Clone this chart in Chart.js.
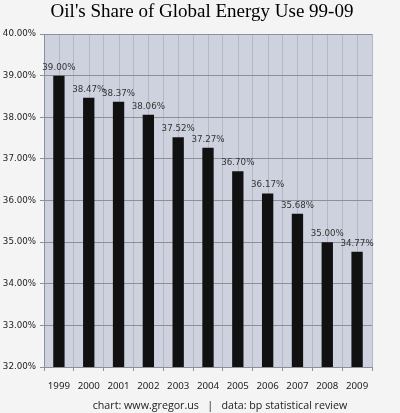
<!DOCTYPE html>
<html>
<head>
<meta charset="utf-8">
<script src="https://cdn.jsdelivr.net/npm/chart.js@4.4.0/dist/chart.umd.min.js"></script>
<style>
  html, body { margin: 0; padding: 0; background: #f4f4f4; }
  #wrap { width: 400px; height: 413px; }
</style>
</head>
<body>
<div id="wrap"><canvas id="oilChart" width="400" height="413"></canvas></div>
<script>
// data
var years = ['1999', '2000', '2001', '2002', '2003', '2004', '2005', '2006', '2007', '2008', '2009'];
var oilShare = [39.00, 38.47, 38.37, 38.06, 37.52, 37.27, 36.70, 36.17, 35.68, 35.00, 34.77];
var yTicks = [32, 33, 34, 35, 36, 37, 38, 39, 40];

var titleText = "Oil's Share of Global Energy Use 99-09";
var footerText = 'chart: www.gregor.us   |   data: bp statistical review';

// plot background + extra vertical lines through the bar centres
var plotBack = {
    id: 'plotBack',
    beforeDraw: function (chart) {
        var a = chart.chartArea, c = chart.ctx, x = chart.scales.x;
        c.save();
        c.fillStyle = '#cdd2de';
        c.fillRect(a.left, a.top, a.right - a.left, a.bottom - a.top);
        c.strokeStyle = '#b3b8c3';
        c.lineWidth = 1;
        for (var i = 0; i < years.length; i++) {
            var px = Math.round(x.getPixelForValue(i)) + 0.5;
            c.beginPath();
            c.moveTo(px, a.top);
            c.lineTo(px, a.bottom);
            c.stroke();
        }
        c.restore();
    }
};

// value labels, title and footer
var textBits = {
    id: 'textBits',
    afterDatasetsDraw: function (chart) {
        var c = chart.ctx;
        c.save();
        c.fillStyle = '#333';
        c.font = '8.7px "DejaVu Sans"';
        c.textAlign = 'center';
        c.textBaseline = 'bottom';
        chart.getDatasetMeta(0).data.forEach(function (bar, i) {
            c.fillText(oilShare[i].toFixed(2) + '%', bar.x, bar.y - 4);
        });

        c.fillStyle = '#000';
        c.font = '19px "Liberation Serif"';
        c.textBaseline = 'alphabetic';
        c.fillText(titleText, 202, 17);

        c.fillStyle = '#222';
        c.font = '10.7px "Open Sans"';
        c.fillText(footerText, 220, 409);
        c.restore();
    }
};

var ctx = document.getElementById('oilChart').getContext('2d');
var chart = new Chart(ctx, {
    type: 'bar',
    data: {
        labels: years,
        datasets: [{
            label: 'Oil share',
            backgroundColor: '#111111',
            data: oilShare,
            barPercentage: 0.76,
            categoryPercentage: 0.5
        }]
    },
    options: {
        responsive: false,
        animation: false,
        layout: { padding: { top: 34, right: 28, bottom: 0, left: 0 } },
        plugins: {
            legend: { display: false },
            title: { display: false },
            tooltip: { enabled: false }
        },
        scales: {
            x: {
                offset: true,
                grid: {
                    offset: true,
                    color: '#b3b8c3',
                    tickLength: 4,
                    tickColor: '#8c9099'
                },
                border: { color: '#8c9099' },
                ticks: {
                    color: '#222',
                    font: { family: 'Noto Sans', size: 9.7 },
                    padding: 9
                },
                afterFit: function (s) { s.height = 46; }
            },
            y: {
                min: 32,
                max: 40,
                afterBuildTicks: function (s) {
                    s.ticks = yTicks.map(function (v) { return { value: v }; });
                },
                grid: {
                    color: '#8c9099',
                    tickLength: 4
                },
                border: { color: '#8c9099' },
                ticks: {
                    color: '#222',
                    font: { family: 'DejaVu Sans', size: 8.7 },
                    padding: 4,
                    callback: function (v) { return v.toFixed(2) + '%'; }
                },
                afterFit: function (s) { s.width = 44; }
            }
        }
    },
    plugins: [plotBack, textBits]
});
</script>
</body>
</html>
